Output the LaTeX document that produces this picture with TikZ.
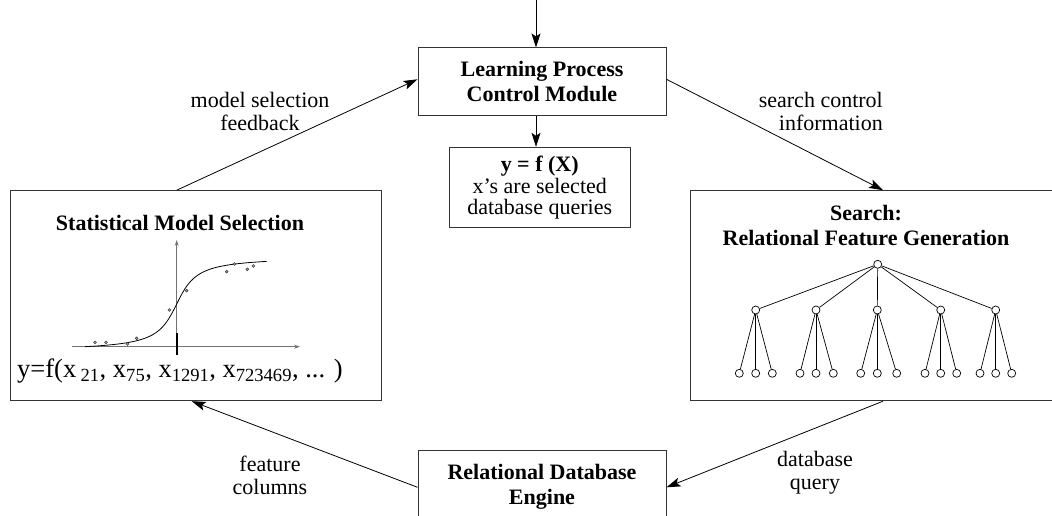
\documentclass[tikz,border=0pt]{standalone}
\usepackage{fontspec}
\setmainfont{Liberation Serif}
\usetikzlibrary{arrows.meta}
\begin{document}
\begin{tikzpicture}[x=1pt,y=-1pt,
  box/.style={draw=black!80, line width=1pt, inner sep=0pt},
  conn/.style={line width=0.8pt, -{Stealth[length=14pt,width=9pt,inset=3pt]}},
  lbl/.style={font=\fontsize{22}{23}\selectfont, align=center, inner sep=0pt},
  ttl/.style={font=\fontsize{22}{25}\selectfont\bfseries, align=center, inner sep=0pt},
  tn/.style={circle, draw, line width=0.7pt, minimum size=8pt, inner sep=0pt},
  te/.style={line width=0.7pt},
  axis/.style={draw=black!55, line width=0.8pt, -{Stealth[length=6pt,width=4pt]}},
  dot/.style={circle, draw=black!80, fill=black!40, line width=0.4pt, minimum size=3pt, inner sep=0pt}]
\useasboundingbox (0,0) rectangle (1052,516);
\clip (0,0) rectangle (1052,516);

% boxes
\node[box, ttl, minimum width=248pt, minimum height=68pt] (lpc) at (542,82) {Learning Process\\Control Module};
\node[box, lbl, font=\fontsize{22}{20.5}\selectfont, minimum width=181pt, minimum height=80pt] (yfx) at (539.7,187.3)
  {\textbf{y = f (X)}\\[2pt]x’s are selected\\database queries};
\node[box, minimum width=371.7pt, minimum height=210pt] (sms) at (195.85,295.7) {};
\node[box, minimum width=369.3pt, minimum height=210pt] (rfg) at (875.35,295.7) {};
\node[box, minimum width=248pt, minimum height=80pt] (rdb) at (542,490) {};

% titles inside boxes
\node[ttl] (smst) at (180,223) {Statistical Model Selection};
\node[ttl] (rfgt) at (866,226) {Search:\\Relational Feature Generation};
\node[ttl] (rdbt) at (542,486.5) {Relational Database\\Engine};

% connectors
\coordinate (topin) at (536,0);
\draw[conn] (topin) -- (topin |- lpc.north);
\draw[conn] (lpc.south -| topin) -- (yfx.north -| topin);
\draw[conn] ([xshift=-19.15pt]sms.north) -- ([yshift=2.7pt]lpc.west);
\draw[conn] ([yshift=2.7pt]lpc.east) -- ([xshift=7.65pt]rfg.north);
\draw[conn] ([xshift=7.65pt]rfg.south) -- ([yshift=2.7pt]rdb.east);
\draw[conn] ([yshift=2.7pt]rdb.west) -- ([xshift=-4.15pt]sms.south);

% connector labels
\node[lbl] (l1) at (260,111) {model selection\\feedback};
\node[lbl, align=right, anchor=east] (l2) at (883,111) {search control\\information};
\node[lbl] (l3) at (815,473) {database\\query};
\node[lbl] (l4) at (270,475) {feature\\columns};

% plot in left box
\draw[axis] (71.7,346.7) -- (300,346.7);
\draw[axis] (176.7,355) -- (176.7,240);
\draw[line width=1.8pt] (176.7,333) -- (176.7,355);
\draw[line width=0.8pt, domain=85:266.7, samples=90, smooth] plot (\x, {304 - 30.3*rad(atan((\x-176.7)/15))});
\foreach \px/\py [count=\k] in {95/342.3,106/342.3,127.3/344,136.7/338.3,169.3/310,186.7/290.7,226.7/271.7,234.3/264,247.3/269.3,253.3/266}
  \node[dot] (d\k) at (\px,\py) {};
\node[font=\fontsize{26.5}{28}\selectfont, inner sep=0pt] (form) at (180,371)
  {y=f(x\,\textsubscript{21}, x\textsubscript{75}, x\textsubscript{1291}, x\textsubscript{723469}, ... )};

% tree in right box
\node[tn] (r) at (877.7,264.3) {};
\foreach \i/\cx/\la/\lb/\lc in {1/755.7/739.3/755.7/772.3, 2/816/800/816/833.3, 3/877.3/860.7/877.3/896.7, 4/940.7/925/940.7/956.7, 5/995.7/980/995.7/1011.7} {
  \node[tn] (c\i) at (\cx,310) {};
  \draw[te] (r) -- (c\i);
  \node[tn] (l\i a) at (\la,373.3) {};
  \node[tn] (l\i b) at (\lb,373.3) {};
  \node[tn] (l\i c) at (\lc,373.3) {};
  \draw[te] (c\i) -- (l\i a);
  \draw[te] (c\i) -- (l\i b);
  \draw[te] (c\i) -- (l\i c);
}
\end{tikzpicture}
\end{document}
